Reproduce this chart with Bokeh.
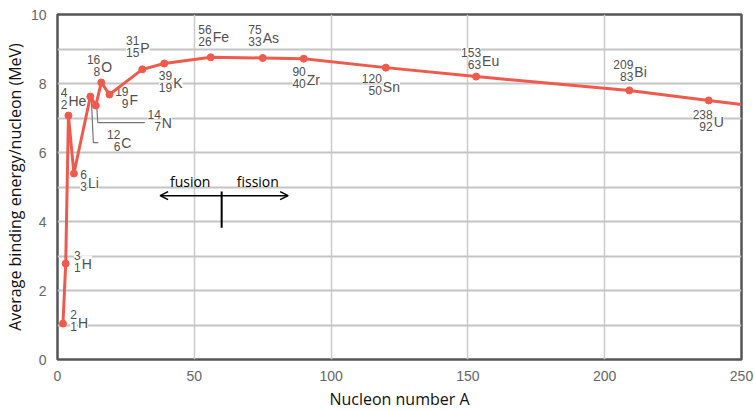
from bokeh.plotting import figure
from bokeh.models import ColumnDataSource, FixedTicker, Range1d, Arrow, OpenHead
from bokeh.core.properties import value
from bokeh.embed import file_html
from bokeh.resources import INLINE

# ---- data ----
nucleon_A = [2, 3, 4, 6, 12, 14, 16, 19, 31, 39, 56, 75, 90, 120, 153, 209, 238]
binding_energy = [1.04, 2.78, 7.07, 5.39, 7.62, 7.36, 8.03, 7.68, 8.41, 8.58,
                  8.76, 8.74, 8.72, 8.46, 8.20, 7.80, 7.51]
symbols = ["H", "H", "He", "Li", "C", "N", "O", "F", "P", "K",
           "Fe", "As", "Zr", "Sn", "Eu", "Bi", "U"]
mass_numbers = ["2", "3", "4", "6", "12", "14", "16", "19", "31", "39",
                "56", "75", "90", "120", "153", "209", "238"]
atomic_numbers = ["1", "1", "2", "3", "6", "7", "8", "9", "15", "19",
                  "26", "33", "40", "50", "63", "83", "92"]
tail_A = [250]
tail_energy = [7.39]

x_ticks = [0, 50, 100, 150, 200, 250]
y_ticks = [0, 2, 4, 6, 8, 10]
y_grid = [1, 2, 3, 4, 5, 6, 7, 8, 9]
x_grid = [50, 100, 150, 200]

# ---- label placement (screen pixels relative to each point) ----
sym_dx = [15, 16, 0, 14, 31, 66, 0, 20, -2, 9, 2, 0, 3, -3, 6, 5, 5]
sym_dy = [-1, 0, -15, 9, 46, 17, -15, 5, -21, 20, -20, -20, 21, 19, -16, -18, 22]

W, H = 755, 412
BL, BR, BT, BB = 57, 14, 14, 53
FW, FH = W - BL - BR, H - BT - BB
XMAX, YMAX = 250, 10
pxA = FW / XMAX
pxE = FH / YMAX

p = figure(width=W, height=H, output_backend="svg", toolbar_location=None,
           x_range=Range1d(0, XMAX), y_range=Range1d(0, YMAX),
           min_border_left=BL, min_border_right=BR, min_border_top=BT, min_border_bottom=BB)
p.background_fill_color = "white"
p.border_fill_color = "white"
p.outline_line_color = "#555555"
p.outline_line_width = 2.5

for ax in (p.xaxis[0], p.yaxis[0]):
    ax.axis_line_color = None
    ax.major_tick_line_color = None
    ax.minor_tick_line_color = None
    ax.major_label_text_color = "#666666"
    ax.major_label_text_font = "Liberation Sans"
    ax.major_label_text_font_size = "14px"
    ax.axis_label_text_font = "Open Sans"
    ax.axis_label_text_font_size = "16px"
    ax.axis_label_text_font_style = "normal"
    ax.axis_label_text_color = "#111111"
p.xaxis.ticker = FixedTicker(ticks=x_ticks)
p.yaxis.ticker = FixedTicker(ticks=y_ticks)
p.xaxis.major_label_standoff = 5
p.yaxis.major_label_standoff = 5
p.xaxis.axis_label = "Nucleon number A"
p.yaxis.axis_label = "Average binding energy/nucleon (MeV)"
p.xaxis.axis_label_standoff = 4
p.yaxis.axis_label_standoff = 2

p.xgrid.ticker = FixedTicker(ticks=x_grid)
p.ygrid.ticker = FixedTicker(ticks=y_grid)
p.xgrid.grid_line_color = "#c8cbd4"
p.ygrid.grid_line_color = "#c4c4c4"
p.xgrid.grid_line_width = 1.5
p.ygrid.grid_line_width = 2

red = "#ef5a4c"

# leader lines for 12C and 14N (pixel offsets converted to data)
iC = symbols.index("C")
iN = symbols.index("N")
lead_C_px = [(1, 2), (3, 46), (8, 46)]
lead_N_px = [(1, 2), (2, 17), (49, 17)]
for idx, pts in ((iC, lead_C_px), (iN, lead_N_px)):
    xs = [nucleon_A[idx] + dx / pxA for dx, dy in pts]
    ys = [binding_energy[idx] - dy / pxE for dx, dy in pts]
    p.line(xs, ys, line_color="#777777", line_width=1.2)

src = ColumnDataSource(dict(A=nucleon_A, E=binding_energy, sym=symbols,
                            mass=mass_numbers, z=atomic_numbers,
                            sdx=sym_dx, sdy=sym_dy,
                            ndx=[d - 1 for d in sym_dx],
                            mdy=[d - 8 for d in sym_dy],
                            zdy=[d + 4 for d in sym_dy]))

common = dict(text_color="#505050", text_font=value("Liberation Sans"),
              text_baseline="middle", background_fill_color="white")
p.text(x="A", y="E", text="mass", x_offset="ndx", y_offset="mdy", source=src,
       text_align="right", text_font_size="12px", **common)
p.text(x="A", y="E", text="z", x_offset="ndx", y_offset="zdy", source=src,
       text_align="right", text_font_size="12px", **common)
p.text(x="A", y="E", text="sym", x_offset="sdx", y_offset="sdy", source=src,
       text_align="left", text_font_size="14px", **common)

p.line(nucleon_A + tail_A, binding_energy + tail_energy, line_color=red, line_width=3)
p.scatter(x="A", y="E", source=src, size=7, fill_color=red, line_color=red)

# fusion / fission annotation
fusion_left_A, fission_right_A, arrow_E = 37.5, 84.3, 4.75
divider_A, divider_E0, divider_E1 = 60.0, 3.82, 4.87
p.add_layout(Arrow(x_start=fusion_left_A, x_end=fission_right_A, y_start=arrow_E, y_end=arrow_E,
                   start=OpenHead(size=8, line_width=1.5), end=OpenHead(size=8, line_width=1.5),
                   line_width=1.5, line_color="black"))
p.line([divider_A, divider_A], [divider_E0, divider_E1], line_color="black", line_width=2)
p.text(x=[48.5, 73.2], y=[5.15, 5.15], text=["fusion", "fission"],
       text_align="center", text_baseline="middle", text_font=value("Open Sans"),
       text_font_size="14px", text_color="black")

open("out.html", "w").write(file_html(p, INLINE))
